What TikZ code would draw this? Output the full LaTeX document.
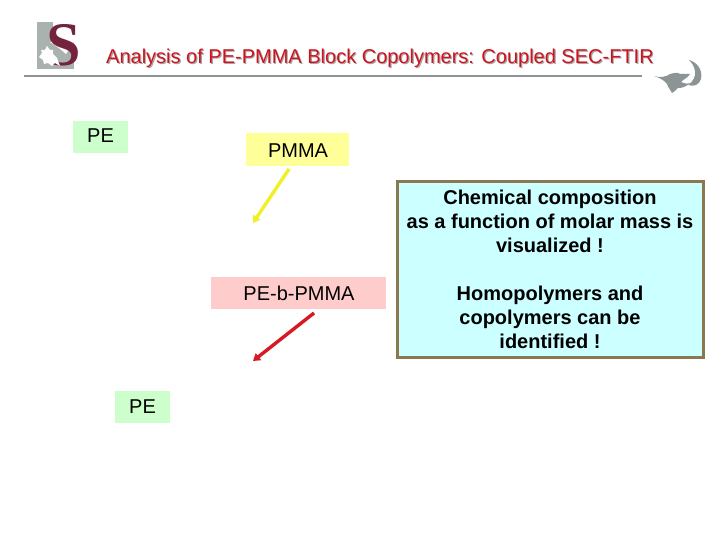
\documentclass[tikz,border=0pt]{standalone}
\usepackage{fontspec}
\setmainfont{Liberation Sans}
\newfontfamily\serifS{Liberation Serif}
\usetikzlibrary{arrows.meta}
\definecolor{titlered}{RGB}{205,20,30}
\definecolor{rulegrey}{RGB}{140,148,150}
\definecolor{logogrey}{RGB}{170,178,176}
\definecolor{maroon}{RGB}{115,35,60}
\definecolor{pegreen}{RGB}{204,255,204}
\definecolor{pmmayellow}{RGB}{255,255,153}
\definecolor{blockpink}{RGB}{255,204,204}
\definecolor{boxcyan}{RGB}{204,255,255}
\definecolor{boxedge}{RGB}{140,120,80}
\definecolor{arrowyellow}{RGB}{240,240,40}
\definecolor{arrowred}{RGB}{215,25,35}
\tikzset{
 labelbox/.style={inner sep=0pt,font=\fontsize{20}{24}\selectfont,text=black,anchor=center},
 arrowline/.style={line width=3.4pt,-{Triangle[length=7pt,width=8.5pt]}},
}
\begin{document}
\begin{tikzpicture}[x=1pt,y=-1pt]
\useasboundingbox (0,0) rectangle (720,540);
\fill[white] (0,0) rectangle (720,540);
% logo
\fill[logogrey] (37,22) rectangle (74,69);
\fill[white] (53,22) rectangle (75,42);
\fill[white] (50,42) .. controls (56,46) and (62,50) .. (66,54) -- (74,42) -- cycle;
\node[inner sep=0pt,text=maroon,font=\fontsize{62}{62}\selectfont\serifS\bfseries] (logoS) at (64,45.5) {S};
\fill[white] (39,57) -- (42,53) -- (41,50) -- (45,50) -- (47,46) -- (50,50) -- (53,50) -- (53,54) -- (57,58)
 -- (60,66) -- (55,63) -- (52,66) -- (48,63) -- (44,64) -- (43,60) -- cycle;
% title
\node[inner sep=0pt,text=black!35,font=\fontsize{20}{24}\selectfont] (titleshadow) at (381.2,59.7) {Analysis of PE-PMMA Block Copolymers: Coupled SEC-FTIR};
\node[inner sep=0pt,text=titlered,font=\fontsize{20}{24}\selectfont] (title) at (380,58.5) {Analysis of PE-PMMA Block Copolymers: Coupled SEC-FTIR};
\coordinate (ruleL) at (24,76);
\coordinate (ruleR) at (642,76);
\draw[rulegrey,line width=1.8pt] (ruleL) -- (ruleR);
% fish/leaf
\fill[rulegrey] (654,76) .. controls (660,78) and (666,77) .. (670,74) .. controls (674,73) and (678,72) .. (680,74)
 .. controls (684,73) and (687,75) .. (690,74) .. controls (688,78) and (682,80) .. (681,82)
 .. controls (686,84) and (688,84) .. (690,83) .. controls (686,87) and (682,88) .. (678,88)
 .. controls (676,90) and (674,92) .. (672,93) .. controls (671,90) and (668,88) .. (667,84)
 .. controls (664,80) and (660,78) .. (654,76) -- cycle;
\fill[rulegrey] (689,60) .. controls (697,62) and (703,70) .. (701,79) .. controls (699,85) and (694,87) .. (688,85)
 .. controls (693,82) and (696,76) .. (695,71) .. controls (694,66) and (692,63) .. (689,60) -- cycle;
% labels
\fill[pegreen] (73,121) rectangle (128,153);
\node[labelbox] (pe1) at (100.5,136) {PE};
\fill[pmmayellow] (246,133) rectangle (349,166);
\node[labelbox] (pmma) at (298,150.5) {PMMA};
\fill[blockpink] (211,277) rectangle (386,309);
\node[labelbox] (block) at (299,293) {PE-b-PMMA};
\fill[pegreen] (115,391) rectangle (170,423);
\node[labelbox] (pe2) at (142.5,406.5) {PE};
% info box
\node[draw=boxedge,line width=3pt,fill=boxcyan,minimum width=306pt,minimum height=176pt,inner sep=0pt,anchor=north west] (info) at (396,180) {};
\node[inner sep=0pt,align=center,font=\fontsize{20}{24}\selectfont\bfseries,anchor=north] (infotxt) at (550,189.5) {Chemical composition\\as a function of molar mass is\\visualized !\\[24pt]Homopolymers and\\copolymers can be\\identified !};
% arrows
\coordinate (a1s) at (289,169);
\coordinate (a1e) at (253,223);
\draw[arrowline,arrowyellow] (a1s) -- (a1e);
\coordinate (a2s) at (314,313);
\coordinate (a2e) at (253,361);
\draw[arrowline,arrowred] (a2s) -- (a2e);
\end{tikzpicture}
\end{document}
